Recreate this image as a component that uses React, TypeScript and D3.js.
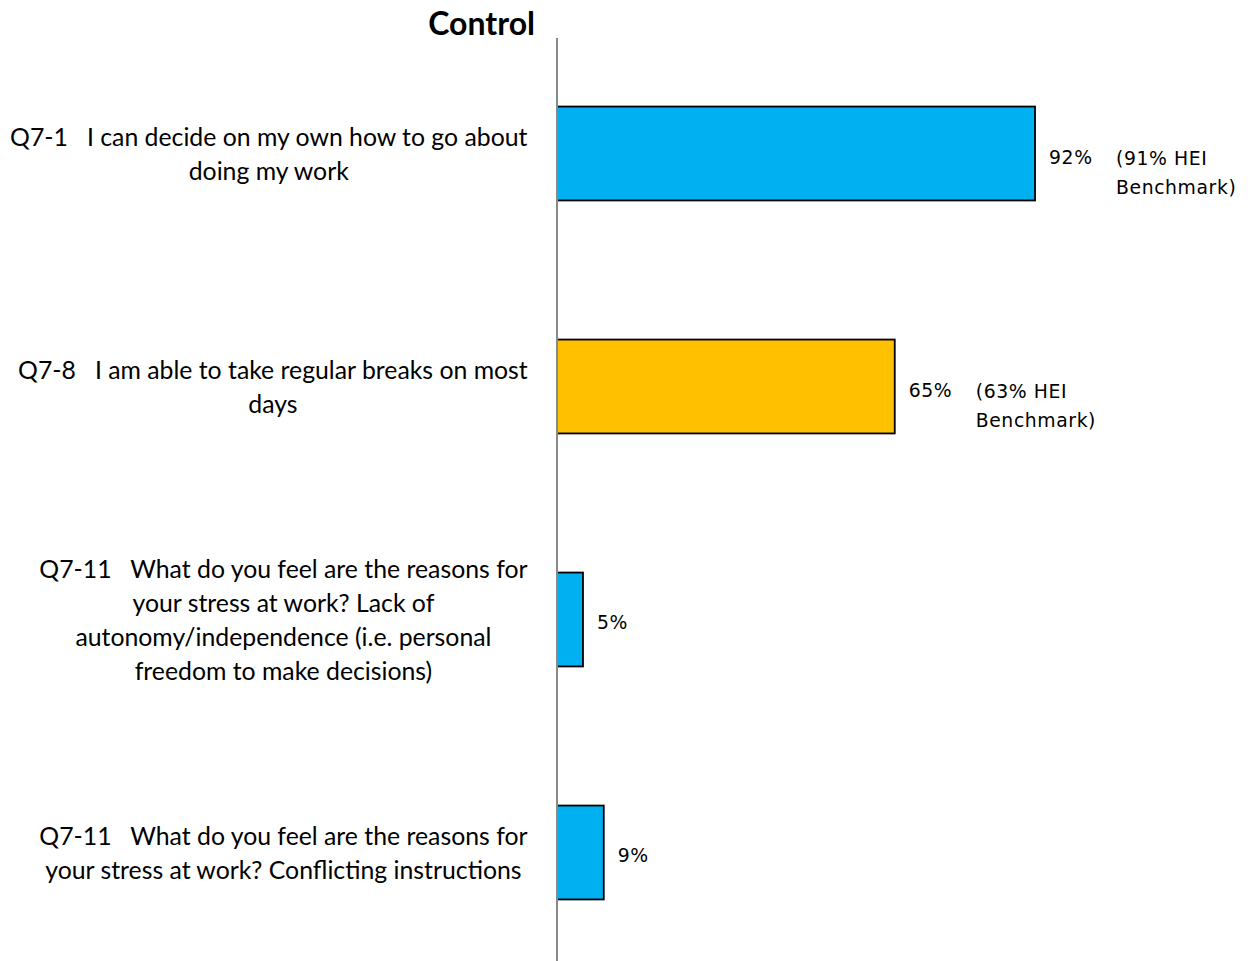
import React from "react";
import * as d3 from "d3";

const title = "Control";
const categoryIds = ["Q7-1", "Q7-8", "Q7-11 autonomy", "Q7-11 instructions"];
const categoryLines: string[][] = [
  ["Q7-1   I can decide on my own how to go about", "doing my work"],
  ["Q7-8   I am able to take regular breaks on most", "days"],
  [
    "Q7-11   What do you feel are the reasons for",
    "your stress at work? Lack of",
    "autonomy/independence (i.e. personal",
    "freedom to make decisions)",
  ],
  ["Q7-11   What do you feel are the reasons for", "your stress at work? Conflicting instructions"],
];
const values = [92, 65, 5, 9];
const benchmarks: (number | null)[] = [91, 63, null, null];
const belowBenchmark = [false, true, false, false];

const W = 1255;
const H = 961;
const BLUE = "#00B0F0";
const AMBER = "#FFC000";
const LABEL_FONT_SIZE = 24.8;
const labelFont = "Lato, 'Open Sans', sans-serif";

let ctx: CanvasRenderingContext2D | null = null;
function measure(s: string): number {
  if (!ctx) ctx = document.createElement("canvas").getContext("2d");
  if (!ctx) return s.length * 11;
  ctx.font = `${LABEL_FONT_SIZE}px Lato`;
  return ctx.measureText(s).width;
}

export default function App() {
  const x = d3.scaleLinear().domain([0, 100]).range([557, 1076.6]);
  const y = d3
    .scaleBand<string>()
    .domain(categoryIds)
    .range([37, 969])
    .paddingInner(0.597)
    .paddingOuter(0.2985);
  const bw = y.bandwidth();
  const valueFont = "'DejaVu Sans', Verdana, sans-serif";
  const catLH = 33.8;
  const valLH = 29;
  const labelRight = 528;

  return (
    <svg
      width={W}
      height={H}
      style={{ position: "absolute", left: 0, top: 0, background: "#fff" }}
    >
      <text
        x={535}
        y={35}
        textAnchor="end"
        fontFamily={labelFont}
        fontWeight={700}
        fontSize={32}
        fill="#000"
      >
        {title}
      </text>
      {categoryIds.map((id, i) => {
        const y0 = y(id)!;
        const cy = y0 + bw / 2;
        const lines = categoryLines[i];
        const v = values[i];
        const b = benchmarks[i];
        const xEnd = x(v);
        const maxW = d3.max(lines, (l) => measure(l)) ?? 0;
        const cx = labelRight - maxW / 2;
        return (
          <g key={id}>
            <rect
              x={x(0)}
              y={y0}
              width={xEnd - x(0)}
              height={bw}
              fill={belowBenchmark[i] ? AMBER : BLUE}
              stroke="#000"
              strokeWidth={1.8}
            />
            {lines.map((ln, j) => (
              <text
                key={j}
                x={cx}
                y={cy + 1 + (j - (lines.length - 1) / 2) * catLH}
                dy="0.35em"
                textAnchor="middle"
                fontFamily={labelFont}
                fontSize={LABEL_FONT_SIZE}
                fill="#000"
                style={{ whiteSpace: "pre" }}
              >
                {ln}
              </text>
            ))}
            <text
              x={xEnd + 14}
              y={b != null ? cy + 4 : cy + 3}
              dy="0.35em"
              fontFamily={valueFont}
              fontSize={18.8}
              letterSpacing={0.6}
              fill="#000"
            >
              {`${v}%`}
            </text>
            {b != null && (
              <text
                fontFamily={valueFont}
                fontSize={18.8}
                letterSpacing={0.6}
                fill="#000"
              >
                <tspan x={xEnd + 81} y={cy + 5} dy="0.35em">{`(${b}% HEI`}</tspan>
                <tspan x={xEnd + 81} y={cy + 5 + valLH} dy="0.35em">Benchmark)</tspan>
              </text>
            )}
          </g>
        );
      })}
      <line x1={x(0)} x2={x(0)} y1={38} y2={H} stroke="#898989" strokeWidth={2} />
    </svg>
  );
}
